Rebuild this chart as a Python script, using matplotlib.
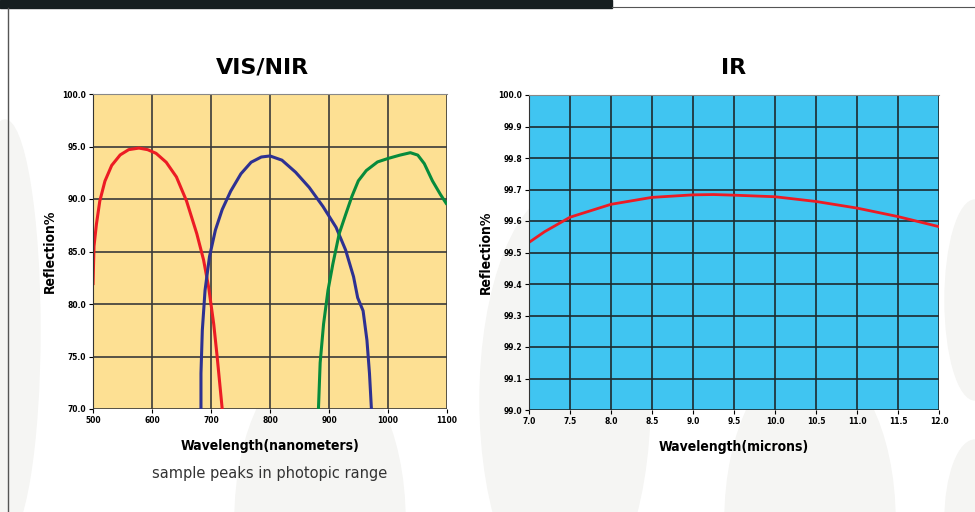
import matplotlib.pyplot as plt
from matplotlib.patches import Ellipse, Rectangle
from matplotlib.lines import Line2D

# VIS/NIR curves (nm, reflection %)
red_x = [500, 501.7, 505.8, 511.5, 520.2, 531.7, 546.1, 560.5, 577.8, 592.5, 606.9, 624.1,
         641.4, 658.6, 675.9, 687.4, 696.0, 704.6, 710.4, 719.0]
red_y = [81.8, 85.5, 87.6, 89.8, 91.7, 93.2, 94.2, 94.7, 94.85, 94.7, 94.35, 93.5,
         92.1, 89.8, 86.7, 84.2, 81.6, 78.1, 75.0, 70.0]

blue_x = [683.0, 683.0, 685.3, 689.9, 697.4, 707.5, 719.0, 733.4, 750.7, 768.0, 785.3, 800.0,
          820.2, 843.4, 866.5, 889.6, 912.0, 928.1, 941.6, 948.6, 957.8, 964.3, 968.6, 971.9]
blue_y = [70.0, 73.4, 77.5, 81.3, 84.5, 87.05, 89.0, 90.75, 92.4, 93.5, 94.0, 94.1,
          93.7, 92.55, 91.1, 89.3, 87.3, 85.15, 82.6, 80.6, 79.35, 76.55, 73.4, 70.0]

green_x = [882.1, 885.0, 890.8, 898.3, 906.5, 917.3, 928.1, 938.9, 949.7, 963.2, 982.2, 1000.0,
           1020.3, 1037.9, 1050.5, 1061.5, 1075.3, 1089.0, 1100.0]
green_y = [70.0, 74.4, 78.1, 81.3, 83.8, 86.7, 88.5, 90.26, 91.73, 92.71, 93.53, 93.86,
           94.18, 94.41, 94.18, 93.37, 91.73, 90.42, 89.47]

# IR curve (microns, reflection %)
ir_x = [7.0, 7.19, 7.5, 8.0, 8.5, 9.0, 9.25, 9.5, 10.0, 10.5, 11.0, 11.5, 12.0]
ir_y = [99.532, 99.566, 99.612, 99.653, 99.675, 99.683, 99.684, 99.682, 99.677, 99.662, 99.641, 99.614, 99.582]

vis_xticks = [500, 600, 700, 800, 900, 1000, 1100]
vis_yticks = [70, 75, 80, 85, 90, 95, 100]
ir_xticks = [7.0, 7.5, 8.0, 8.5, 9.0, 9.5, 10.0, 10.5, 11.0, 11.5, 12.0]
ir_yticks = [99.0, 99.1, 99.2, 99.3, 99.4, 99.5, 99.6, 99.7, 99.8, 99.9, 100.0]

plt.rcParams['font.family'] = ['DejaVu Sans']
fig = plt.figure(figsize=(9.75, 5.12), dpi=100)

# faint background ellipses and frame
for cx, cy, w, h in [(5, 330, 70, 420), (320, 520, 170, 330), (565, 400, 170, 420),
                     (810, 520, 170, 330), (975, 300, 60, 200), (975, 520, 60, 160)]:
    fig.add_artist(Ellipse((cx / 975, 1 - cy / 512), w / 975, h / 512,
                           transform=fig.transFigure, color='#f5f5f3', zorder=0))
fig.add_artist(Rectangle((0, 1 - 8 / 512), 612 / 975, 8 / 512, transform=fig.transFigure,
                         color='#161e20', zorder=1))
fig.add_artist(Line2D([612 / 975, 1], [1 - 7 / 512] * 2, transform=fig.transFigure,
                      color='#555555', lw=0.8))
fig.add_artist(Line2D([8 / 975] * 2, [0, 1 - 8 / 512], transform=fig.transFigure,
                      color='#555555', lw=1.0))

tick_font = dict(fontsize=6, fontweight='bold', fontstretch='condensed')
lab_font = dict(fontsize=10, fontweight='bold', fontstretch='condensed')

ax1 = fig.add_axes([93 / 975, 1 - 409 / 512, 354 / 975, 315 / 512])
ax1.set_facecolor('#fde093')
ax1.plot(red_x, red_y, color='#ec1c24', lw=2.2, solid_capstyle='butt')
ax1.plot(blue_x, blue_y, color='#2e3192', lw=2.2, solid_capstyle='butt')
ax1.plot(green_x, green_y, color='#078b3c', lw=2.2, solid_capstyle='butt')
ax1.set_xlim(500, 1100)
ax1.set_ylim(70, 100)
ax1.set_xticks(vis_xticks)
ax1.set_yticks(vis_yticks)
ax1.set_xticklabels([str(t) for t in vis_xticks], **tick_font)
ax1.set_yticklabels([f'{t:.1f}' for t in vis_yticks], **tick_font)
ax1.grid(True, color='#3a3a3a', lw=1.2)
ax1.set_axisbelow(True)
ax1.set_title('VIS/NIR', fontsize=16, fontweight='bold', pad=15, x=0.48)
ax1.set_xlabel('Wavelength(nanometers)', labelpad=10, **lab_font)
ax1.set_ylabel('Reflection%', labelpad=4, **lab_font)
ax1.text(0.5, -0.206, 'sample peaks in photopic range', transform=ax1.transAxes,
         ha='center', va='center', fontsize=10.5, color='#333333')

ax2 = fig.add_axes([529 / 975, 1 - 410 / 512, 410 / 975, 315 / 512])
ax2.set_facecolor('#40c5f1')
ax2.plot(ir_x, ir_y, color='#ec1c24', lw=2.0)
ax2.set_xlim(7.0, 12.0)
ax2.set_ylim(99.0, 100.0)
ax2.set_xticks(ir_xticks)
ax2.set_yticks(ir_yticks)
ax2.set_xticklabels([f'{t:.1f}' for t in ir_xticks], **tick_font)
ax2.set_yticklabels([f'{t:.1f}' for t in ir_yticks], **tick_font)
ax2.grid(True, color='#1e2a2e', lw=1.2)
ax2.set_axisbelow(True)
ax2.set_title('IR', fontsize=16, fontweight='bold', pad=15)
ax2.set_xlabel('Wavelength(microns)', labelpad=10, **lab_font)
ax2.set_ylabel('Reflection%', labelpad=4, **lab_font)

for ax in (ax1, ax2):
    ax.tick_params(length=3, width=0.8, pad=2)
    ax.spines['top'].set_color('#888888')
    ax.spines['right'].set_visible(False)
    ax.spines['left'].set_color('#333333')
    ax.spines['bottom'].set_visible(False)

fig.savefig('out.png', dpi=100)
